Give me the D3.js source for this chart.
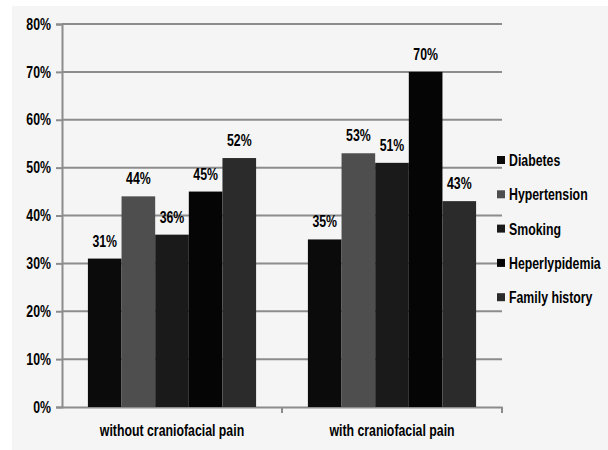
<!DOCTYPE html>
<html>
<head>
<meta charset="utf-8">
<script src="https://cdn.jsdelivr.net/npm/d3@7"></script>
<style>
  body { margin: 0; background: #ffffff; }
  text { font-family: "Liberation Sans", Arial, sans-serif; font-weight: bold; fill: #000; }
</style>
</head>
<body>
<svg id="canvas" width="608" height="450"></svg>
<script>
let groups = ['without craniofacial pain', 'with craniofacial pain']
let factors = ['Diabetes', 'Hypertension', 'Smoking', 'Heperlypidemia', 'Family history']
let withoutPain = [31, 44, 36, 45, 52]
let withPain = [35, 53, 51, 70, 43]
let yTicks = [0, 10, 20, 30, 40, 50, 60, 70, 80]
let colors = ['#0b0b0b', '#4e4e4e', '#1a1a1a', '#050505', '#2b2b2b']

let values = [withoutPain, withPain]

// the original uses a narrow font, squeeze the text horizontally
let squeeze = 0.77

let canvas = d3.select('#canvas')

// light grey panel behind the chart
canvas.append('rect')
      .attr('x', 12).attr('y', 6)
      .attr('width', 596).attr('height', 444)
      .attr('fill', '#f5f5f5')

let plotLeft = 62, plotRight = 502, plotTop = 24, plotBottom = 407

let x = d3.scaleBand().domain(groups).range([plotLeft, plotRight])
let inner = d3.scaleBand().domain(factors).range([0, x.bandwidth()]).paddingOuter(0.77)
let y = d3.scaleLinear().domain([0, 80]).range([plotBottom, plotTop])

// gridlines
canvas.selectAll('.grid')
      .data(yTicks.slice(1))
      .enter()
      .append('line')
      .attr('x1', plotLeft).attr('x2', plotRight)
      .attr('y1', d => y(d)).attr('y2', d => y(d))
      .attr('stroke', '#8c8c8c')
      .attr('stroke-width', 2)

// y axis
let yAxis = canvas.append('g')
      .attr('transform', `translate(${plotLeft},0)`)
      .call(d3.axisLeft(y).tickValues(yTicks).tickFormat(d => d + '%').tickSize(6).tickPadding(4))
yAxis.select('.domain').attr('stroke', '#8c8c8c').attr('stroke-width', 2)
yAxis.selectAll('.tick line').attr('stroke', '#8c8c8c').attr('stroke-width', 2)
yAxis.selectAll('text')
     .style('font-size', '16px')
     .attr('x', 0)
     .attr('transform', `translate(-11,0) scale(${squeeze},1)`)

// x axis
let xAxis = canvas.append('g')
      .attr('transform', `translate(0,${plotBottom})`)
      .call(d3.axisBottom(x).tickSize(0).tickPadding(18))
xAxis.select('.domain').attr('stroke', '#8c8c8c').attr('stroke-width', 2)
xAxis.selectAll('text')
     .style('font-size', '16px')
     .attr('transform', `scale(${squeeze},1)`)
canvas.selectAll('.xtick')
      .data([plotLeft + x.bandwidth(), plotRight])
      .enter()
      .append('line')
      .attr('x1', d => d).attr('x2', d => d)
      .attr('y1', plotBottom).attr('y2', plotBottom + 6)
      .attr('stroke', '#8c8c8c')
      .attr('stroke-width', 2)

// bars
let groupSel = canvas.selectAll('.group')
      .data(groups)
      .enter()
      .append('g')
      .attr('transform', d => `translate(${x(d)},0)`)

groupSel.selectAll('rect')
        .data((g, i) => values[i].map((v, j) => ({ factor: factors[j], value: v, color: colors[j] })))
        .enter()
        .append('rect')
        .attr('x', d => inner(d.factor))
        .attr('y', d => y(d.value))
        .attr('width', inner.bandwidth())
        .attr('height', d => plotBottom - y(d.value))
        .attr('fill', d => d.color)

groupSel.selectAll('.label')
        .data((g, i) => values[i].map((v, j) => ({ factor: factors[j], value: v })))
        .enter()
        .append('text')
        .attr('transform', d => `translate(${inner(d.factor) + inner.bandwidth() / 2},${y(d.value) - 12}) scale(${squeeze},1)`)
        .attr('text-anchor', 'middle')
        .style('font-size', '16px')
        .text(d => d.value + '%')

// legend
let legend = canvas.selectAll('.legend')
      .data(factors)
      .enter()
      .append('g')
      .attr('transform', (d, i) => `translate(497,${160 + i * 34.3})`)

legend.append('rect')
      .attr('x', 0).attr('y', -4)
      .attr('width', 8).attr('height', 8)
      .attr('fill', (d, i) => colors[i])

legend.append('text')
      .attr('transform', `translate(12,6) scale(${squeeze},1)`)
      .style('font-size', '16px')
      .text(d => d)
</script>
</body>
</html>
